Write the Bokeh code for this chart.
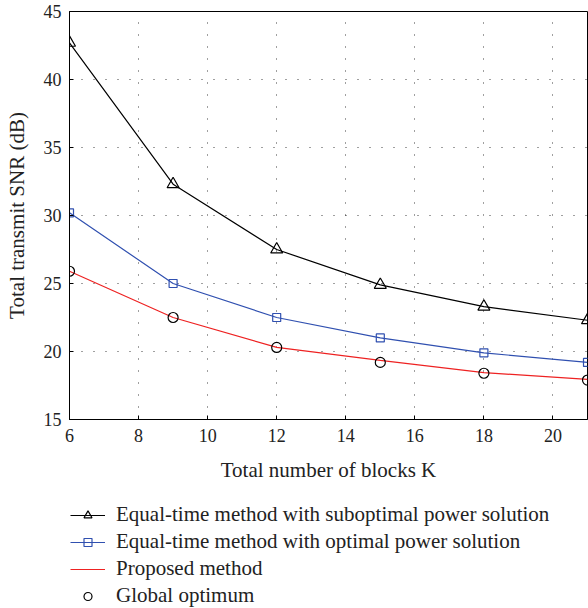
from bokeh.plotting import figure
from bokeh.layouts import column
from bokeh.models import (FixedTicker, Legend, LegendItem, Range1d)
from bokeh.embed import file_html
from bokeh.resources import INLINE

# ---- data ----
K = [6, 9, 12, 15, 18, 21]
subopt = [42.7, 32.3, 27.5, 24.9, 23.3, 22.3]
opt = [30.2, 25.0, 22.5, 21.0, 19.9, 19.2]
proposed = [25.9, 22.5, 20.3, 19.35, 18.45, 17.95]
global_opt = [25.9, 22.5, 20.3, 19.2, 18.4, 17.9]

x_ticks = [6, 8, 10, 12, 14, 16, 18, 20]
y_ticks = [15, 20, 25, 30, 35, 40, 45]

labels = ["Equal-time method with suboptimal power solution",
          "Equal-time method with optimal power solution",
          "Proposed method",
          "Global optimum"]

FONT = "Liberation Serif"
FS_TICK = "18px"
FS = "21px"
TXT = "#222222"
BLUE = "#3050b0"
RED = "#ee2222"

# ---------------- main chart ----------------
p = figure(width=588, height=490, x_range=Range1d(6, 21), y_range=Range1d(15, 45),
           output_backend="svg", toolbar_location=None,
           min_border_left=69, min_border_right=1, min_border_top=11, min_border_bottom=71)
p.background_fill_color = "white"
p.border_fill_color = "white"
p.outline_line_color = "black"
p.outline_line_width = 1

for ax in (p.xaxis[0], p.yaxis[0]):
    ax.major_label_text_font = FONT
    ax.major_label_text_font_size = FS_TICK
    ax.major_label_text_color = TXT
    ax.major_tick_in = 4
    ax.major_tick_out = 0
    ax.minor_tick_in = 0
    ax.minor_tick_out = 0
    ax.axis_line_color = "black"
    ax.major_tick_line_color = "black"
    ax.axis_label_text_font = FONT
    ax.axis_label_text_font_size = FS
    ax.axis_label_text_font_style = "normal"
    ax.axis_label_text_color = TXT
p.xaxis[0].ticker = FixedTicker(ticks=x_ticks)
p.yaxis[0].ticker = FixedTicker(ticks=y_ticks)
p.xaxis[0].major_label_standoff = 9
p.yaxis[0].major_label_standoff = 8
p.yaxis[0].axis_label = "Total transmit SNR (dB)"
p.yaxis[0].axis_label_standoff = 12
p.xaxis[0].axis_label = "Total number of blocks K"
p.xaxis[0].axis_label_standoff = 13

for g in (p.xgrid[0], p.ygrid[0]):
    g.grid_line_color = "black"
    g.grid_line_alpha = 0.75
    g.grid_line_dash = "1 11"
    g.grid_line_width = 1
p.xgrid[0].ticker = FixedTicker(ticks=x_ticks)
p.ygrid[0].ticker = FixedTicker(ticks=y_ticks)

line_kw = dict(line_width=1.2)
p.line(K, subopt, line_color="black", **line_kw)
p.scatter(K, subopt, marker="triangle", size=12, line_color="black", fill_color=None, **line_kw)
p.line(K, opt, line_color=BLUE, **line_kw)
p.scatter(K, opt, marker="square", size=8, line_color=BLUE, fill_color=None, **line_kw)
p.line(K, proposed, line_color=RED, **line_kw)
p.scatter(K, global_opt, marker="circle", size=10, line_color="black", fill_color=None, **line_kw)

# ---------------- legend panel ----------------
# Same series, drawn in a panel whose ranges keep them out of view; only the legend shows.
q = figure(width=588, height=118, output_backend="svg", toolbar_location=None,
           x_axis_type=None, y_axis_type=None, min_border=0,
           x_range=Range1d(0, 1), y_range=Range1d(0, 1))
q.outline_line_color = None
q.grid.visible = False
q.background_fill_color = "white"
q.border_fill_color = "white"
e1 = q.line(K, subopt, line_color="black", **line_kw)
m1 = q.scatter(K, subopt, marker="triangle", line_color="black", fill_color=None, **line_kw)
e2 = q.line(K, opt, line_color=BLUE, **line_kw)
m2 = q.scatter(K, opt, marker="square", line_color=BLUE, fill_color=None, **line_kw)
e3 = q.line(K, proposed, line_color=RED, **line_kw)
m4 = q.scatter(K, global_opt, marker="circle", line_color="black", fill_color=None, **line_kw)

legend = Legend(items=[LegendItem(label=labels[0], renderers=[e1, m1]),
                       LegendItem(label=labels[1], renderers=[e2, m2]),
                       LegendItem(label=labels[2], renderers=[e3]),
                       LegendItem(label=labels[3], renderers=[m4])],
                location=(1, 0), orientation="vertical")
legend.label_text_font = FONT
legend.label_text_font_size = FS
legend.label_text_color = TXT
legend.glyph_width = 35
legend.glyph_height = 20
legend.label_height = 20
legend.label_standoff = 11
legend.spacing = 2
legend.padding = 0
legend.margin = 0
legend.border_line_color = None
legend.background_fill_color = None
q.add_layout(legend, "center")

layout = column(p, q, spacing=0)
open("out.html", "w").write(file_html(layout, INLINE))
